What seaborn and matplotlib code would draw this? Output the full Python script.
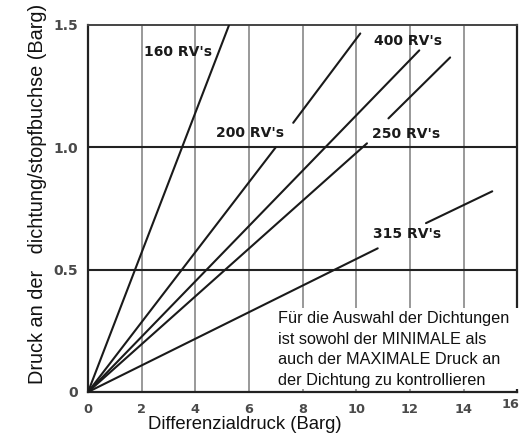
import matplotlib
matplotlib.use("Agg")
import matplotlib.pyplot as plt
import matplotlib.transforms as mtransforms
import seaborn as sns
import pandas as pd
from matplotlib.patches import Rectangle

# ---- data ----
series_names = ["160 RV's", "200 RV's", "400 RV's", "250 RV's", "315 RV's"]
# each line is drawn as one or two straight segments (gaps leave room for labels)
seg_series = ["160 RV's", "200 RV's", "200 RV's", "400 RV's", "250 RV's", "250 RV's", "315 RV's", "315 RV's"]
seg_x0 = [0.0, 0.0, 7.65, 0.0, 0.0, 11.2, 0.0, 12.6]
seg_x1 = [5.26, 7.0, 10.15, 12.35, 10.4, 13.5, 10.8, 15.07]
seg_y0 = [0.0, 0.0, 1.10, 0.0, 0.0, 1.118, 0.0, 0.69]
seg_y1 = [1.5, 1.0, 1.465, 1.396, 1.016, 1.367, 0.587, 0.82]

label_x = [3.36, 6.05, 11.94, 11.87, 11.9]
label_y = [1.388, 1.057, 1.433, 1.053, 0.645]

x_ticks = [0, 2, 4, 6, 8, 10, 12, 14, 16]
y_ticks = [0, 0.5, 1.0, 1.5]
y_tick_labels = ["0", "0.5", "1.0", "1.5"]

note_lines = ["Für die Auswahl der Dichtungen",
              "ist sowohl der MINIMALE als",
              "auch der MAXIMALE Druck an",
              "der Dichtung zu kontrollieren"]

sns.set_style("white")
plt.rcParams['font.family'] = ['Liberation Sans', 'DejaVu Sans']

rows = []
for i, (s, a, b, c, d) in enumerate(zip(seg_series, seg_x0, seg_x1, seg_y0, seg_y1)):
    rows.append({"seg": i, "series": s, "x": a, "y": c})
    rows.append({"seg": i, "series": s, "x": b, "y": d})
df = pd.DataFrame(rows)

fig = plt.figure(figsize=(5.24, 4.37), dpi=100)
ax = fig.add_axes([0.168, 0.103, 0.819, 0.840])

sns.lineplot(data=df, x="x", y="y", units="seg", estimator=None, ax=ax,
             color="#1a1a1a", linewidth=1.5, sort=False, legend=False, zorder=3)

ax.set_xlim(0, 16)
ax.set_ylim(0, 1.5)
ax.set_xticks(x_ticks)
ax.set_xticklabels([str(t) for t in x_ticks], color="#4a4a4a", fontweight="bold",
                   fontsize=9.3, family="DejaVu Sans")
ax.set_yticks(y_ticks)
ax.set_yticklabels(y_tick_labels, color="#4a4a4a", fontweight="bold",
                   fontsize=10, family="DejaVu Sans")
ax.tick_params(axis="x", length=0, pad=8)
ax.tick_params(axis="y", length=0, pad=7)

# last x tick label sits slightly left and higher in the reference
last_lbl = ax.get_xticklabels()[-1]
last_lbl.set_transform(last_lbl.get_transform() +
                       mtransforms.ScaledTranslation(-5 / 72, 4 / 72, fig.dpi_scale_trans))

for xv in x_ticks[1:-1]:
    ax.axvline(xv, color="#999999", linewidth=1.4, zorder=1)
for yv in [0.5, 1.0]:
    ax.axhline(yv, color="#222222", linewidth=1.5, zorder=1)

for side in ["left", "bottom", "right"]:
    ax.spines[side].set_color("#222222")
    ax.spines[side].set_linewidth(1.6)
ax.spines["top"].set_color("#444444")
ax.spines["top"].set_linewidth(1.4)

for name, lx, ly in zip(series_names, label_x, label_y):
    ax.text(lx, ly, name, ha="center", va="center", fontsize=10,
            fontweight="bold", color="#1a1a1a", zorder=4, family="DejaVu Sans")

# white note box
ax.add_patch(Rectangle((0.405, 0.008), 0.61, 0.22, transform=ax.transAxes,
                       facecolor="white", edgecolor="none", zorder=5, clip_on=False))
ax.text(0.443, 0.221, "\n".join(note_lines), transform=ax.transAxes,
        ha="left", va="top", fontsize=11.7, color="#111111", linespacing=1.47, zorder=6)

ax.set_xlabel("")
ax.set_ylabel("")
fig.text(0.467, 0.028, "Differenzialdruck (Barg)", ha="center", va="center",
         fontsize=13.3, color="#111111")
fig.text(0.071, 0.556, "Druck an der   dichtung/stopfbuchse (Barg)", rotation=90,
         ha="center", va="center", fontsize=14.3, color="#111111")

fig.savefig("out.png", dpi=100)
